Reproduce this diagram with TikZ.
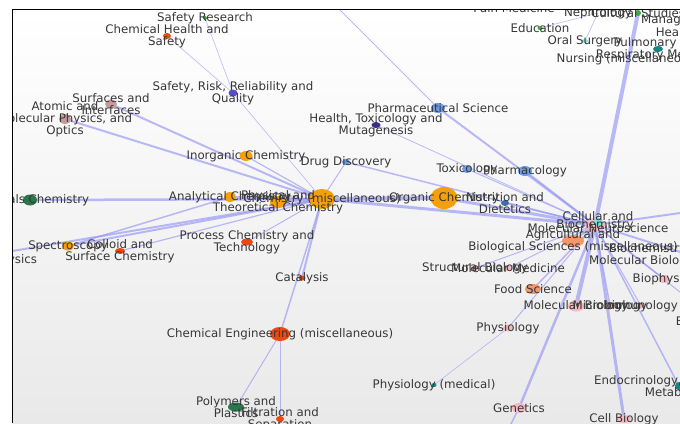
\documentclass[tikz,border=0pt]{standalone}
\usepackage{fontspec}
\setmainfont{DejaVu Sans}
\usepackage{tikz}
\usetikzlibrary{shapes.geometric}
\definecolor{edgec}{RGB}{150,150,245}
\definecolor{txtc}{RGB}{55,55,55}
\definecolor{orng}{RGB}{245,160,10}
\definecolor{redc}{RGB}{240,70,15}
\definecolor{grnd}{RGB}{40,120,75}
\definecolor{grnl}{RGB}{60,170,60}
\definecolor{pnk}{RGB}{245,185,195}
\definecolor{slmn}{RGB}{243,150,105}
\definecolor{blu}{RGB}{110,155,230}
\definecolor{dblu}{RGB}{60,110,170}
\definecolor{purp}{RGB}{90,75,200}
\definecolor{dpur}{RGB}{60,45,140}
\definecolor{tealc}{RGB}{20,135,135}
\definecolor{cyanc}{RGB}{130,225,225}
\definecolor{rosy}{RGB}{200,155,155}

\begin{document}
\begin{tikzpicture}[x=1pt, y=-1pt,
  edge/.style={draw=edgec, opacity=.65},
  dot/.style args={#1x#2}{ellipse, inner sep=0pt, minimum width=#1pt, minimum height=#2pt},
  lbl/.style={font=\fontsize{11.8}{11.8}\selectfont, text=txtc, align=center, inner sep=0pt}]
\useasboundingbox (0,0) rectangle (680,423);
%
% positions
\coordinate (sr) at (205,18);
\coordinate (chs) at (167,36);
\coordinate (srq) at (233,93);
\coordinate (surf) at (111,104);
\coordinate (atom) at (65,119);
\coordinate (inorg) at (246,156);
\coordinate (drug) at (346,162);
\coordinate (cm) at (322,199);
\coordinate (anal) at (230,197);
\coordinate (ptc) at (278,202);
\coordinate (mat) at (30,200);
\coordinate (spec) at (68,246);
\coordinate (coll) at (120,251);
\coordinate (cmp) at (-41,260);
\coordinate (proc) at (247,242);
\coordinate (cat) at (302,278);
\coordinate (cheng) at (280,334);
\coordinate (poly) at (236,407);
\coordinate (filt) at (280,419);
\coordinate (up) at (318,-12);
\coordinate (pharm) at (438,108);
\coordinate (htm) at (376,125);
\coordinate (tox) at (467,169);
\coordinate (phmc) at (525,171);
\coordinate (org) at (444,198);
\coordinate (nutr) at (505,203);
\coordinate (hub) at (595,225);
\coordinate (neuro) at (598,222);
\coordinate (agri) at (573,241);
\coordinate (struct) at (475,268);
\coordinate (molmed) at (508,268);
\coordinate (food) at (533,289);
\coordinate (molbio) at (576,306);
\coordinate (micro) at (610,306);
\coordinate (immun) at (641,306);
\coordinate (physl) at (508,328);
\coordinate (physm) at (434,385);
\coordinate (gen) at (519,408);
\coordinate (low) at (498,450);
\coordinate (cellb) at (624,419);
\coordinate (endo) at (679,386);
\coordinate (biophys) at (664,279);
\coordinate (bgm) at (690,255);
\coordinate (multi) at (730,206);
\coordinate (biot) at (718,322);
\coordinate (pain) at (514,8);
\coordinate (neph) at (598,13);
\coordinate (cult) at (638,13);
\coordinate (mgmt) at (680,20);
\coordinate (hlth) at (694,33);
\coordinate (edu) at (540,28);
\coordinate (oral) at (585,41);
\coordinate (pulm) at (658,49);
\coordinate (nurs) at (628,59);
%
\begin{scope}
\clip (12,9) rectangle (680,423);
\shade[top color=white, bottom color={rgb,255:red,233;green,233;blue,233}] (12,9) rectangle (680,423);
%
% connectors
\draw[edge, line width=.6] (sr) -- (srq);
\draw[edge, line width=.6] (chs) -- (srq);
\draw[edge, line width=.6] (srq) -- (cm);
\draw[edge, line width=2] (surf) -- (cm);
\draw[edge, line width=2] (atom) -- (cm);
\draw[edge, line width=1.2] (inorg) -- (cm);
\draw[edge, line width=2.5] (mat) -- (cm);
\draw[edge, line width=2] (anal) -- (cm);
\draw[edge, line width=2] (ptc) -- (cm);
\draw[edge, line width=2] (spec) -- (cm);
\draw[edge, line width=1.5] (spec) -- (anal);
\draw[edge, line width=2] (cmp) -- (cm);
\draw[edge, line width=1.2] (coll) -- (cm);
\draw[edge, line width=1] (proc) -- (cm);
\draw[edge, line width=2] (cat) -- (cm);
\draw[edge, line width=1.5] (cheng) -- (cm);
\draw[edge, line width=1] (cheng) -- (poly);
\draw[edge, line width=1] (cheng) -- (filt);
\draw[edge, line width=1] (drug) -- (cm);
\draw[edge, line width=1.5] (drug) -- (hub);
\draw[edge, line width=4] (cm) -- (org);
\draw[edge, line width=3] (org) -- (hub);
\draw[edge, line width=3] (cm) -- (hub);
\draw[edge, line width=.8] (up) -- (pharm);
\draw[edge, line width=2] (pharm) -- (hub);
\draw[edge, line width=.8] (htm) -- (hub);
\draw[edge, line width=1] (tox) -- (hub);
\draw[edge, line width=2] (phmc) -- (hub);
\draw[edge, line width=1.5] (nutr) -- (hub);
\draw[edge, line width=4] (cult) -- (hub);
\draw[edge, line width=.6] (edu) -- (neph);
\draw[edge, line width=.6] (oral) -- (neph);
\draw[edge, line width=1.5] (hub) -- (neuro);
\draw[edge, line width=2] (hub) -- (agri);
\draw[edge, line width=1] (hub) -- (struct);
\draw[edge, line width=1] (hub) -- (molmed);
\draw[edge, line width=1.5] (hub) -- (food);
\draw[edge, line width=4] (hub) -- (molbio);
\draw[edge, line width=1.5] (hub) -- (micro);
\draw[edge, line width=1] (hub) -- (immun);
\draw[edge, line width=1] (hub) -- (physl);
\draw[edge, line width=.6] (physl) -- (physm);
\draw[edge, line width=2.5] (hub) -- (gen);
\draw[edge, line width=1.5] (gen) -- (low);
\draw[edge, line width=3] (hub) -- (cellb);
\draw[edge, line width=1.5] (hub) -- (endo);
\draw[edge, line width=1.5] (hub) -- (biophys);
\draw[edge, line width=2] (hub) -- (bgm);
\draw[edge, line width=2] (hub) -- (multi);
\draw[edge, line width=1] (hub) -- (biot);
%
% dots
\node[dot=4x4, fill=grnl] at (sr) {};
\node[dot=8x6, fill=redc] at (chs) {};
\node[dot=9x7, fill=purp] at (srq) {};
\node[dot=12x9, fill=rosy] at (surf) {};
\node[dot=12x10, fill=rosy] at (atom) {};
\node[dot=13x10, fill=orng] at (inorg) {};
\node[dot=8x6, fill=blu] at (drug) {};
\node[dot=26x20, fill=orng] at (cm) {};
\node[dot=12x10, fill=orng] at (anal) {};
\node[dot=16x12, fill=orng] at (ptc) {};
\node[dot=14x11, fill=grnd] at (mat) {};
\node[dot=12x9, fill=orng] at (spec) {};
\node[dot=10x6, fill=redc] at (coll) {};
\node[dot=12x7, fill=redc] at (proc) {};
\node[dot=7x5, fill=redc] at (cat) {};
\node[dot=20x14, fill=redc] at (cheng) {};
\node[dot=16x9, fill=grnd] at (poly) {};
\node[dot=8x6, fill=redc] at (filt) {};
\node[dot=14x10, fill=blu] at (pharm) {};
\node[dot=9x6, fill=dpur] at (htm) {};
\node[dot=10x8, fill=blu] at (tox) {};
\node[dot=14x10, fill=blu] at (phmc) {};
\node[dot=27x22, fill=orng] at (org) {};
\node[dot=8x6, fill=dblu] at (nutr) {};
\node[dot=22x12, fill=slmn] at (agri) {};
\node[dot=20x14, fill=pnk] at (hub) {};
\node[dot=10x8, fill=cyanc] at (neuro) {};
\node[dot=8x6, fill=pnk] at (struct) {};
\node[dot=8x6, fill=pnk] at (molmed) {};
\node[dot=16x10, fill=slmn] at (food) {};
\node[dot=16x11, fill=pnk] at (molbio) {};
\node[dot=10x7, fill=pnk] at (micro) {};
\node[dot=6x5, fill=pnk] at (immun) {};
\node[dot=10x7, fill=pnk] at (physl) {};
\node[dot=5x4, fill=tealc] at (physm) {};
\node[dot=14x10, fill=pnk] at (gen) {};
\node[dot=14x8, fill=pnk] at (cellb) {};
\node[dot=8x8, fill=tealc] at (endo) {};
\node[dot=12x8, fill=pnk] at (biophys) {};
\node[dot=5x4, fill=grnl] at (edu) {};
\node[dot=6x4, fill=cyanc] at (oral) {};
\node[dot=6x6, fill=grnl] at (cult) {};
\node[dot=10x6, fill=tealc] at (pulm) {};
%
% labels
\node[lbl] at (sr) {Safety Research};
\node[lbl] at (chs) {Chemical Health and\\Safety};
\node[lbl] at (srq) {Safety, Risk, Reliability and\\Quality};
\node[lbl] at (surf) {Surfaces and\\Interfaces};
\node[lbl] at (atom) {Atomic and\\Molecular Physics, and\\Optics};
\node[lbl] at (inorg) {Inorganic Chemistry};
\node[lbl] at (drug) {Drug Discovery};
\node[lbl] at (cm) {Chemistry (miscellaneous)};
\node[lbl] at (anal) {Analytical Chemistry};
\node[lbl] at (ptc) {Physical and\\Theoretical Chemistry};
\node[lbl] at (mat) {Materials Chemistry};
\node[lbl] at (spec) {Spectroscopy};
\node[lbl] at (coll) {Colloid and\\Surface Chemistry};
\node[lbl] at (cmp) {Condensed Matter Physics};
\node[lbl] at (proc) {Process Chemistry and\\Technology};
\node[lbl] at (cat) {Catalysis};
\node[lbl] at (cheng) {Chemical Engineering (miscellaneous)};
\node[lbl] at (poly) {Polymers and\\Plastics};
\node[lbl] at (filt) {Filtration and\\Separation};
\node[lbl] at (pharm) {Pharmaceutical Science};
\node[lbl] at (htm) {Health, Toxicology and\\Mutagenesis};
\node[lbl] at (tox) {Toxicology};
\node[lbl] at (phmc) {Pharmacology};
\node[lbl] at (org) {Organic Chemistry};
\node[lbl] at (nutr) {Nutrition and\\Dietetics};
\node[lbl] at (neuro) {Cellular and\\Molecular Neuroscience};
\node[lbl] at (hub) {Biochemistry};
\node[lbl] at (agri) {Agricultural and\\Biological Sciences (miscellaneous)};
\node[lbl] at (struct) {Structural Biology};
\node[lbl] at (molmed) {Molecular Medicine};
\node[lbl] at (food) {Food Science};
\node[lbl] at (molbio) {Molecular Biology};
\node[lbl] at (micro) {Microbiology};
\node[lbl] at (immun) {Immunology};
\node[lbl] at (physl) {Physiology};
\node[lbl] at (physm) {Physiology (medical)};
\node[lbl] at (gen) {Genetics};
\node[lbl] at (cellb) {Cell Biology};
\node[lbl] at (endo) {Endocrinology, Diabetes and\\Metabolism};
\node[lbl] at (biophys) {Biophysics};
\node[lbl] at (bgm) {Biochemistry, Genetics and\\Molecular Biology (miscellaneous)};
\node[lbl] at (multi) {Multidisciplinary};
\node[lbl] at (biot) {Biotechnology};
\node[lbl] at (pain) {Pain Medicine};
\node[lbl] at (neph) {Nephrology};
\node[lbl] at (cult) {Cultural Studies};
\node[lbl] at (mgmt) {Management};
\node[lbl] at (hlth) {Health Policy};
\node[lbl] at (edu) {Education};
\node[lbl] at (oral) {Oral Surgery};
\node[lbl] at (pulm) {Pulmonary and\\Respiratory Medicine};
\node[lbl] at (nurs) {Nursing (miscellaneous)};
\end{scope}
%
\draw[line width=1] (12,423) -- (12,9) -- (680,9);
\end{tikzpicture}
\end{document}
